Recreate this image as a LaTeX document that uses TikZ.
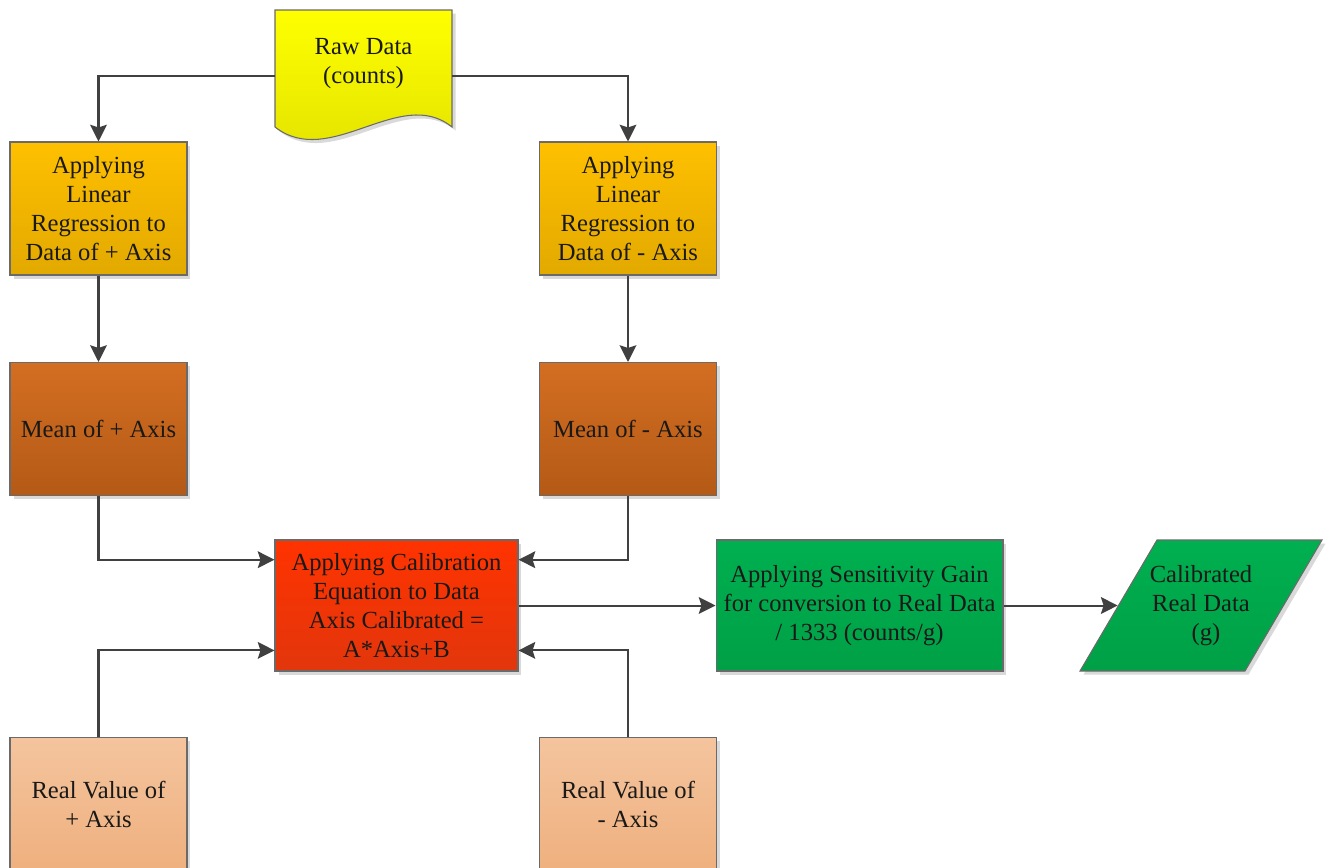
\documentclass[tikz,border=0pt]{standalone}
\usepackage{fontspec}
\setmainfont{Liberation Serif}
\usetikzlibrary{arrows.meta,shadows,calc}

\definecolor{lineclr}{HTML}{404040}
\definecolor{edgeclr}{HTML}{6A6A6A}
\definecolor{yelTop}{HTML}{FFFF00}
\definecolor{yelBot}{HTML}{E0E000}
\definecolor{orgTop}{HTML}{FFC000}
\definecolor{orgBot}{HTML}{E2A900}
\definecolor{brnTop}{HTML}{D36E22}
\definecolor{brnBot}{HTML}{B45A16}
\definecolor{redTop}{HTML}{FF3300}
\definecolor{redBot}{HTML}{E2360C}
\definecolor{grnTop}{HTML}{00B050}
\definecolor{grnBot}{HTML}{00A046}
\definecolor{pchTop}{HTML}{F4C49E}
\definecolor{pchBot}{HTML}{EFB07E}

\tikzset{
  boxfont/.style={font=\fontsize{14}{16.5}\selectfont, text=black!90},
  flowbox/.style={rectangle, draw=edgeclr, line width=0.6pt, align=center,
    inner sep=2pt, boxfont,
    drop shadow={shadow xshift=2pt, shadow yshift=-2pt, fill=black, opacity=0.15}},
  smallbox/.style={flowbox, minimum width=3.54cm, minimum height=2.66cm},
  conn/.style={draw=lineclr, line width=1.15pt,
    -{Stealth[length=9.5pt, width=9.5pt, inset=1.5pt]}}
}

\begin{document}
\begin{tikzpicture}[x=0.02cm, y=-0.02cm]
\useasboundingbox (0,0) rectangle (1330,867);
\clip (0,0) rectangle (1330,867);

% raw data document symbol
\shade[top color=yelTop, bottom color=yelBot, draw=edgeclr, line width=0.6pt,
  drop shadow={shadow xshift=2pt, shadow yshift=-2pt, fill=black, opacity=0.15}]
  (275,10) -- (452,10) -- (452,127)
  .. controls (400,85) and (330,170) .. (275,127) -- cycle;
\node[minimum width=3.54cm, minimum height=2.64cm, inner sep=0pt] (raw) at (363.5,76) {};
\node[align=center, boxfont] (rawtext) at (363.5,64) {Raw Data\\(counts)};

% regression steps
\node[smallbox, top color=orgTop, bottom color=orgBot] (linP) at (98.5,208.5)
  {Applying\\Linear\\Regression to\\Data of + Axis};
\node[smallbox, top color=orgTop, bottom color=orgBot] (linM) at (628,208.5)
  {Applying\\Linear\\Regression to\\Data of - Axis};

% means
\node[smallbox, top color=brnTop, bottom color=brnBot] (meanP) at (98.5,429)
  {Mean of + Axis};
\node[smallbox, top color=brnTop, bottom color=brnBot] (meanM) at (628,429)
  {Mean of - Axis};

% calibration equation
\node[flowbox, top color=redTop, bottom color=redBot,
  minimum width=4.86cm, minimum height=2.62cm] (cal) at (396.5,605.5)
  {Applying Calibration\\Equation to Data\\Axis Calibrated =\\A*Axis+B};

% sensitivity gain
\node[flowbox, top color=grnTop, bottom color=grnBot,
  minimum width=5.74cm, minimum height=2.62cm] (sens) at (859.5,605.5)
  {Applying Sensitivity Gain\\for conversion to Real Data\\/ 1333 (counts/g)};

% calibrated output (parallelogram)
\shade[top color=grnTop, bottom color=grnBot, draw=edgeclr, line width=0.6pt,
  drop shadow={shadow xshift=2pt, shadow yshift=-2pt, fill=black, opacity=0.15}]
  (1157,540) -- (1322,540) -- (1245,671) -- (1080,671) -- cycle;
\node[align=center, boxfont,
  minimum width=3.32cm, minimum height=2.62cm, inner sep=0pt] (calreal) at (1201,605.5)
  {Calibrated\\Real Data\\\hspace*{0.4em}(g)};

% real values
\node[smallbox, top color=pchTop, bottom color=pchBot] (realP) at (98.5,804)
  {Real Value of\\+ Axis};
\node[smallbox, top color=pchTop, bottom color=pchBot] (realM) at (628,804)
  {Real Value of\\- Axis};

% connectors
\draw[conn] (raw.west) -| (linP.north);
\draw[conn] (raw.east) -| (linM.north);
\draw[conn] (linP) -- (meanP);
\draw[conn] (linM) -- (meanM);
\draw[conn] (meanP.south) |- ($(cal.north west)!0.153!(cal.south west)$);
\draw[conn] (meanM.south) |- ($(cal.north east)!0.153!(cal.south east)$);
\draw[conn] (realP.north) |- ($(cal.north west)!0.84!(cal.south west)$);
\draw[conn] (realM.north) |- ($(cal.north east)!0.84!(cal.south east)$);
\draw[conn] (cal.east) -- (sens.west);
\draw[conn] (sens.east) -- (calreal.west);
\end{tikzpicture}
\end{document}
